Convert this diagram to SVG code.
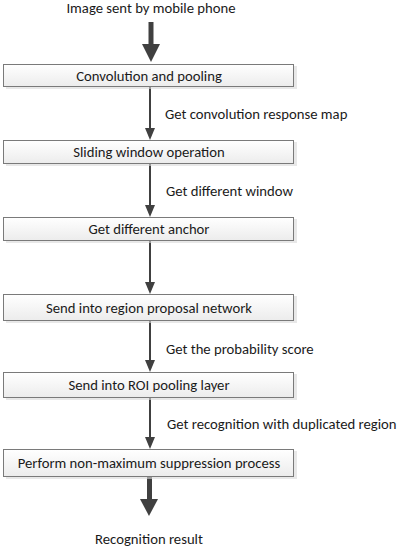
<svg xmlns="http://www.w3.org/2000/svg" width="401" height="550" viewBox="0 0 401 550">
<style>
text{font-family:"Carlito","Liberation Sans",Arial,sans-serif;font-size:14.7px;fill:#1a1a1a}
.c{text-anchor:middle}
.box{fill:url(#g);stroke:#7a7a7a;stroke-width:1}
.sh{fill:#d8d8d8;opacity:0.6}
.thin{stroke:#404040;stroke-width:2;fill:none}
.thick{stroke:#404040;stroke-width:5;fill:none}
.head{fill:#404040}
</style>
<defs>
<linearGradient id="g" x1="0" y1="0" x2="0" y2="1">
<stop offset="0" stop-color="#ffffff"/>
<stop offset="1" stop-color="#ececec"/>
</linearGradient>
</defs>
<rect width="401" height="550" fill="#ffffff"/>
<g id="connectors">
<line class="thick" x1="151" y1="22" x2="151" y2="46"/>
<polygon class="head" points="142,44 160,44 151,62"/>
<line class="thin" x1="150" y1="87" x2="150" y2="130"/>
<polygon class="head" points="145,128 155,128 150,140"/>
<line class="thin" x1="150" y1="164" x2="150" y2="207"/>
<polygon class="head" points="145,205 155,205 150,217"/>
<line class="thin" x1="150" y1="241" x2="150" y2="284"/>
<polygon class="head" points="145,282 155,282 150,294"/>
<line class="thin" x1="150" y1="321" x2="150" y2="362"/>
<polygon class="head" points="145,360 155,360 150,372"/>
<line class="thin" x1="150" y1="398" x2="150" y2="439"/>
<polygon class="head" points="145,437 155,437 150,449"/>
<line class="thick" x1="149.5" y1="477" x2="149.5" y2="501"/>
<polygon class="head" points="140,499 158,499 149,516"/>
</g>
<g id="start"><text class="c" x="151" y="13">Image sent by mobile phone</text></g>
<g id="n1"><rect class="sh" x="6" y="66" width="291" height="23"/><rect class="box" x="3.5" y="64.5" width="290" height="22"/><text class="c" x="149" y="80.5">Convolution and pooling</text></g>
<g id="n2"><rect class="sh" x="6" y="142" width="291" height="24"/><rect class="box" x="3.5" y="140.5" width="290" height="23"/><text class="c" x="149" y="157">Sliding window operation</text></g>
<g id="n3"><rect class="sh" x="6" y="219" width="291" height="24"/><rect class="box" x="3.5" y="217.5" width="290" height="23"/><text class="c" x="149" y="234">Get different anchor</text></g>
<g id="n4"><rect class="sh" x="6" y="296" width="291" height="27"/><rect class="box" x="3.5" y="294.5" width="290" height="26"/><text class="c" x="149" y="312.5">Send into region proposal network</text></g>
<g id="n5"><rect class="sh" x="6" y="374" width="291" height="26"/><rect class="box" x="3.5" y="372.5" width="290" height="25"/><text class="c" x="149" y="390">Send into ROI pooling layer</text></g>
<g id="n6"><rect class="sh" x="6" y="451" width="291" height="28"/><rect class="box" x="3.5" y="449.5" width="290" height="27"/><text class="c" x="149" y="468">Perform non-maximum suppression process</text></g>
<g id="end"><text class="c" x="149" y="544">Recognition result</text></g>
<g id="labels">
<text x="165" y="119">Get convolution response map</text>
<text x="166" y="196">Get different window</text>
<text x="166" y="354">Get the probability score</text>
<text x="167" y="429">Get recognition with duplicated region</text>
</g>
</svg>
